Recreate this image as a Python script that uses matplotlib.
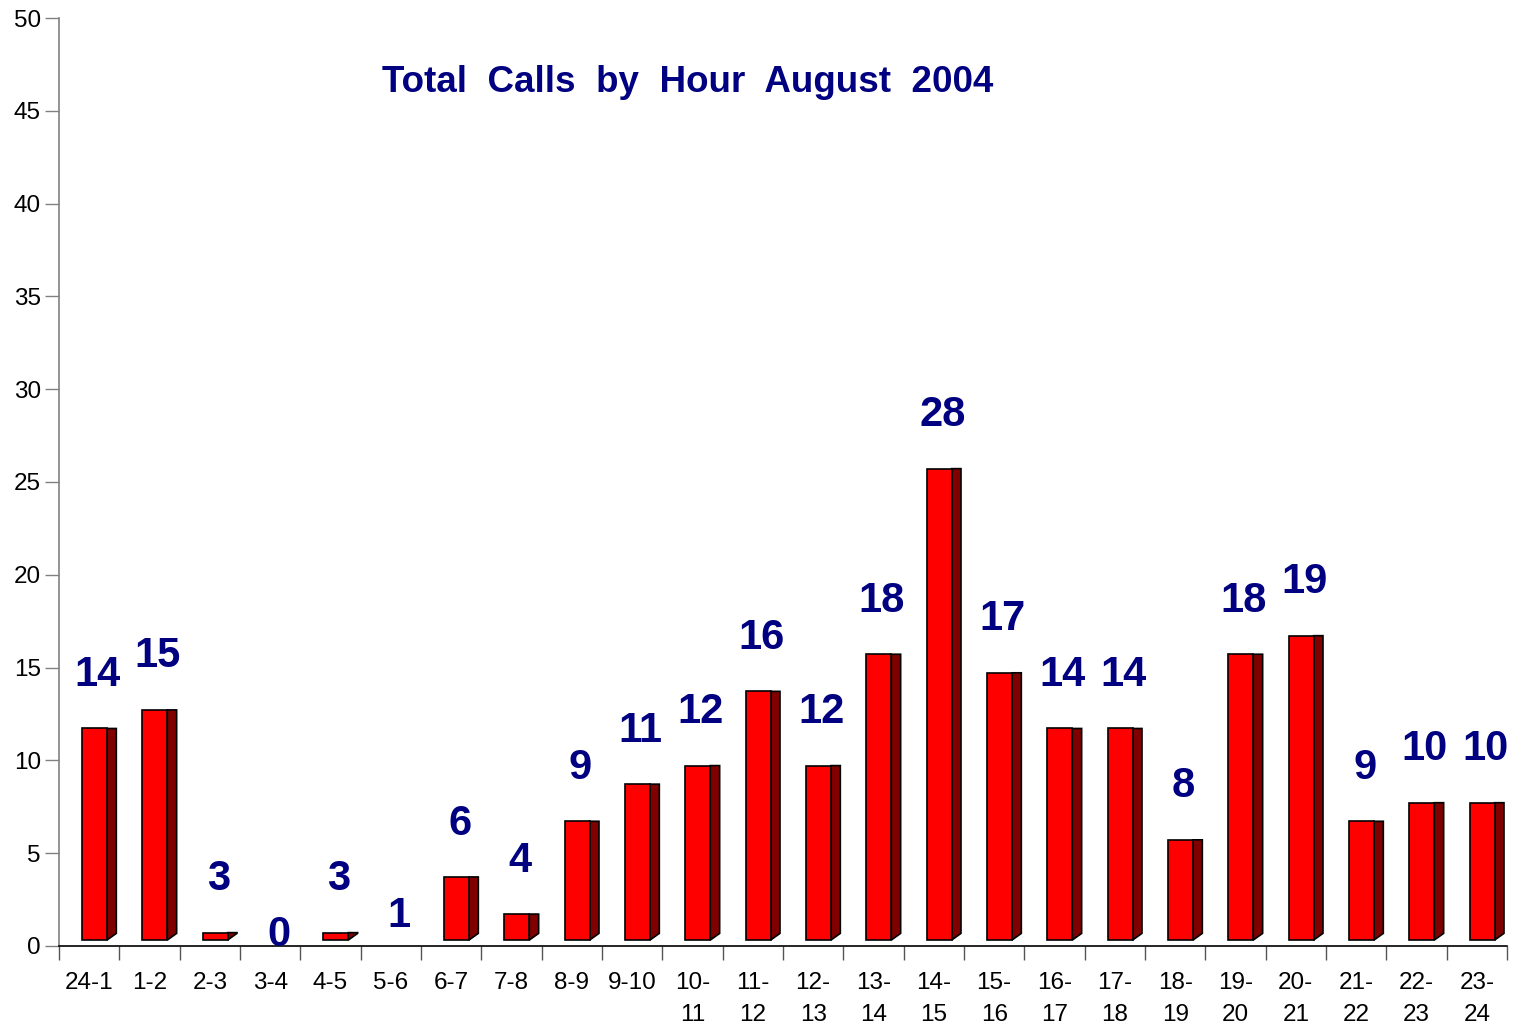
import matplotlib
matplotlib.use("Agg")
import matplotlib.pyplot as plt
from matplotlib.patches import Polygon
import numpy as np

categories = ["24-1", "1-2", "2-3", "3-4", "4-5", "5-6", "6-7", "7-8", "8-9", "9-10",
              "10-\n11", "11-\n12", "12-\n13", "13-\n14", "14-\n15", "15-\n16", "16-\n17",
              "17-\n18", "18-\n19", "19-\n20", "20-\n21", "21-\n22", "22-\n23", "23-\n24"]
calls = [14, 15, 3, 0, 3, 1, 6, 4, 9, 11, 12, 16, 12, 18, 28, 17, 14, 14, 8, 18, 19, 9, 10, 10]
title = "Total  Calls  by  Hour  August  2004"

# 3-D look styling (Excel-like oblique columns)
depth_drop = 2.28      # front face sits lower than the back-wall value
floor_front = 0.32     # front face floor
floor_back = 0.68      # back edge of side face floor
front_l, front_r, side_r = -0.12, 0.295, 0.45

plt.rcParams['font.family'] = ['Liberation Sans', 'DejaVu Sans']

fig = plt.figure(figsize=(15.23, 10.30), dpi=100)
ax = fig.add_axes([59/1523, 1-946/1030, (1507-59)/1523, (946-18)/1030])

x = np.arange(len(calls))
vals = np.array(calls, dtype=float)
tops = vals - depth_drop
heights = np.clip(tops - floor_front, 0, None)
show = heights > 0

ax.bar(x[show] + (front_l + front_r) / 2, heights[show], width=front_r - front_l,
       bottom=floor_front, color='#FF0000', edgecolor='black', linewidth=1.2, zorder=3)
for xi, t, h in zip(x[show], tops[show], heights[show]):
    poly = Polygon([(xi + front_r, floor_front), (xi + side_r, min(floor_back, t)),
                    (xi + side_r, t), (xi + front_r, t)], closed=True,
                   facecolor='#800000', edgecolor='black', linewidth=1.2, zorder=2)
    ax.add_patch(poly)

for xi, v in zip(x, calls):
    ax.text(xi + 0.14, v + 0.6, str(v), ha='center', va='center', fontsize=30,
            fontweight='bold', color='#000080', zorder=4)

ax.set_xlim(-0.5, len(calls) - 0.5)
ax.set_ylim(0, 50)
ax.set_yticks(np.arange(0, 51, 5))
ax.set_xticks(x)
ax.set_xticklabels(categories, fontsize=17.5, linespacing=1.55, va='top')
ax.set_xticks(np.arange(-0.5, len(calls), 1), minor=True)
ax.tick_params(axis='x', which='major', length=0, pad=19)
ax.tick_params(axis='x', which='minor', length=10, width=1, color='#555555', direction='out')
ax.tick_params(axis='y', length=10, width=1, color='#808080', direction='out', pad=3,
               labelsize=17.5)

for s in ['top', 'right']:
    ax.spines[s].set_visible(False)
ax.spines['left'].set_color('#808080')
ax.spines['left'].set_linewidth(1.2)
ax.spines['bottom'].set_color('black')
ax.spines['bottom'].set_linewidth(1.2)

fig.text(688/1523, 1-83/1030, title, ha='center', va='center', fontsize=26.5,
         fontweight='bold', color='#000080')

fig.savefig("out.png", dpi=100)
